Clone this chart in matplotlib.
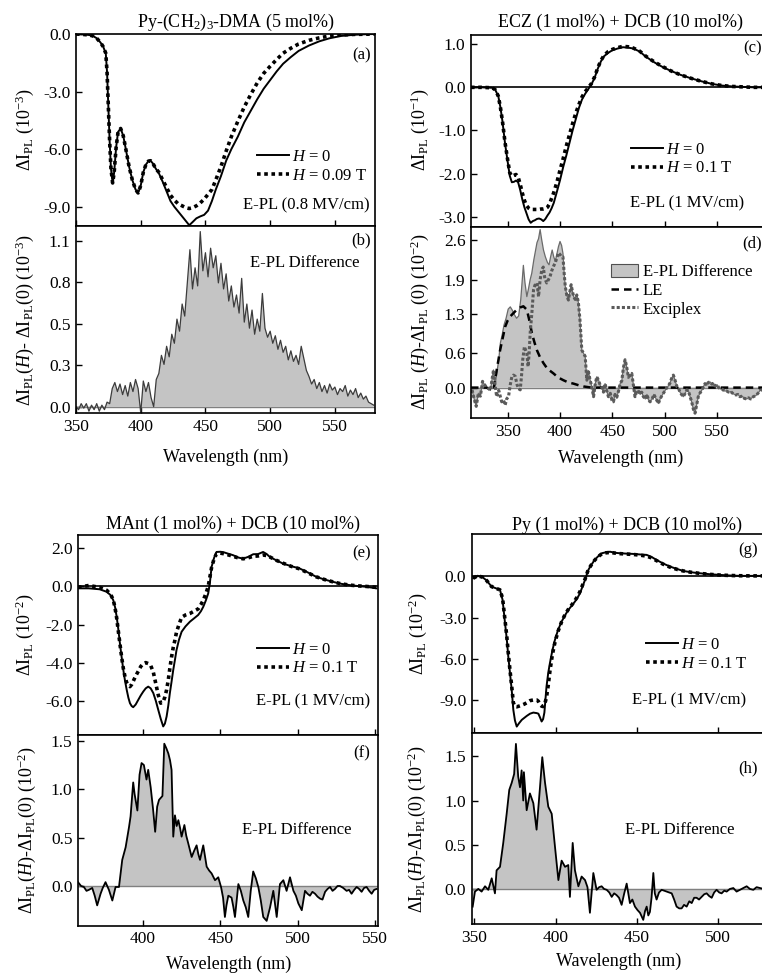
import matplotlib
matplotlib.use("Agg")
import matplotlib.pyplot as plt
from matplotlib.lines import Line2D
from matplotlib.patches import Patch
import numpy as np

plt.rcParams["font.family"] = "Liberation Serif"
plt.rcParams["mathtext.fontset"] = "custom"
plt.rcParams["mathtext.rm"] = "Liberation Serif"
plt.rcParams["mathtext.it"] = "Liberation Serif:italic"
plt.rcParams["mathtext.bf"] = "Liberation Serif:bold"
plt.rcParams["axes.unicode_minus"] = False

# ---------------- data ----------------
# (a) Py-(CH2)3-DMA, E-PL at H = 0 and H = 0.09 T (10^-3)
a_wl = [350, 355, 360, 363, 366, 369, 371, 373, 374, 375,
        376, 377, 378.3, 379.5, 381, 382.5, 384.5, 386.5, 388.5, 391,
        393.5, 396, 398, 400, 402, 404, 406, 407.6, 409.5, 411.5,
        414, 417, 420, 423, 426, 429, 432, 435, 437.5, 440,
        443, 446, 449, 452, 455, 458, 462, 466, 470, 475,
        480, 485, 490, 495, 500, 505, 510, 516, 522, 530,
        538, 546, 555, 565, 575, 581]
a_h0 = [0.0, -0.02, -0.05, -0.1, -0.22, -0.45, -0.66, -1.0, -2.0, -3.8,
        -5.6, -7.0, -7.76, -7.2, -5.9, -5.1, -4.92, -5.3, -6.0, -6.9,
        -7.6, -8.1, -8.28, -7.9, -7.2, -6.8, -6.62, -6.6, -6.75, -7.0,
        -7.25, -7.7, -8.2, -8.7, -9.0, -9.25, -9.5, -9.75, -9.96, -9.8,
        -9.6, -9.5, -9.42, -9.2, -8.7, -8.1, -7.4, -6.6, -6.0, -5.35,
        -4.6, -4.0, -3.4, -2.85, -2.4, -1.95, -1.55, -1.2, -0.88, -0.6,
        -0.38, -0.22, -0.1, -0.04, -0.01, 0.0]
a_h1 = [0.0, -0.02, -0.05, -0.1, -0.22, -0.45, -0.66, -1.0, -2.0, -3.8,
        -5.6, -7.0, -7.76, -7.2, -5.9, -5.1, -4.92, -5.3, -6.0, -6.9,
        -7.6, -8.1, -8.28, -7.9, -7.2, -6.8, -6.62, -6.6, -6.75, -7.0,
        -7.2, -7.6, -8.0, -8.4, -8.65, -8.85, -8.95, -9.05, -9.09, -9.05,
        -8.95, -8.8, -8.6, -8.35, -8.1, -7.6, -6.9, -6.1, -5.35, -4.55,
        -3.8, -3.15, -2.55, -2.05, -1.68, -1.33, -1.0, -0.74, -0.52, -0.33,
        -0.2, -0.1, -0.05, -0.02, -0.01, 0.0]

# (b) E-PL difference (10^-3)
b_wl = [350, 352, 354, 356, 358, 360, 362, 364, 366, 368,
        370, 372, 374, 376, 378, 380, 382, 384, 386, 388,
        390, 392, 394, 396, 398, 400, 402, 404, 406, 408,
        410, 412, 414, 416, 418, 420, 422, 424, 426, 428,
        430, 432, 434, 436, 438, 440, 442, 444, 446, 448,
        450, 452, 454, 456, 458, 460, 462, 464, 466, 468,
        470, 472, 474, 476, 478, 480, 482, 484, 486, 488,
        490, 492, 494, 496, 498, 500, 502, 504, 506, 508,
        510, 512, 514, 516, 518, 520, 522, 524, 526, 528,
        530, 532, 534, 536, 538, 540, 542, 544, 546, 548,
        550, 552, 554, 556, 558, 560, 562, 564, 566, 568,
        570, 572, 574, 576, 578, 580]
b_diff = [0.00, -0.02, 0.02, -0.01, 0.02, -0.03, 0.01, -0.02, 0.02, -0.03,
          0.01, -0.02, 0.03, 0.02, 0.12, 0.16, 0.10, 0.15, 0.08, 0.14,
          0.07, 0.16, 0.10, 0.18, 0.12, -0.04, 0.17, 0.10, 0.16, 0.06,
          0.00, 0.18, 0.22, 0.34, 0.28, 0.40, 0.33, 0.48, 0.42, 0.58,
          0.50, 0.68, 0.60, 0.82, 1.04, 0.78, 0.92, 0.80, 1.16, 0.90,
          1.02, 0.86, 1.05, 0.92, 1.00, 0.82, 0.95, 0.78, 0.88, 0.70,
          0.80, 0.66, 0.74, 0.62, 0.85, 0.56, 0.68, 0.52, 0.64, 0.48,
          0.58, 0.50, 0.75, 0.52, 0.46, 0.50, 0.42, 0.47, 0.38, 0.44,
          0.36, 0.40, 0.31, 0.37, 0.30, 0.34, 0.28, 0.40, 0.32, 0.24,
          0.20, 0.15, 0.18, 0.12, 0.16, 0.10, 0.14, 0.09, 0.15, 0.11,
          0.13, 0.08, 0.12, 0.10, 0.14, 0.07, 0.11, 0.08, 0.12, 0.06,
          0.09, 0.05, 0.07, 0.03, 0.02, 0.01]

# (c) ECZ + DCB, E-PL at H = 0 and H = 0.1 T (10^-1)
c_wl = [315, 325, 335, 338, 341, 343, 345, 347.5, 350, 352,
        354, 356, 358, 360, 362, 364, 366, 368, 370, 372,
        374, 376, 378, 380, 382, 384, 386, 388, 390, 392,
        394, 397, 400, 403, 406, 409, 412, 415, 418, 421,
        424, 427, 430, 433, 436, 439, 442, 446, 450, 455,
        460, 465, 470, 476, 482, 490, 498, 506, 515, 525,
        535, 545, 555, 565, 575, 585, 600]
c_h0 = [0.0, 0.0, -0.01, -0.05, -0.2, -0.45, -0.78, -1.3, -1.72, -2.05,
        -2.2, -2.19, -2.16, -2.2, -2.38, -2.6, -2.78, -2.92, -3.06, -3.14,
        -3.1, -3.08, -3.05, -3.04, -3.06, -3.1, -3.05, -2.97, -2.9, -2.8,
        -2.68, -2.42, -2.15, -1.85, -1.58, -1.29, -1.0, -0.74, -0.48, -0.28,
        -0.15, -0.04, 0.07, 0.22, 0.43, 0.6, 0.72, 0.8, 0.86, 0.9,
        0.93, 0.92, 0.9, 0.83, 0.71, 0.58, 0.47, 0.38, 0.29, 0.21,
        0.14, 0.08, 0.04, 0.02, 0.01, 0.0, 0.0]
c_h1 = [0.0, 0.0, -0.01, -0.05, -0.2, -0.45, -0.78, -1.28, -1.68, -1.98,
        -2.06, -2.04, -2.02, -2.08, -2.25, -2.45, -2.62, -2.74, -2.8, -2.83,
        -2.83, -2.83, -2.83, -2.83, -2.82, -2.82, -2.81, -2.78, -2.7, -2.57,
        -2.44, -2.2, -1.92, -1.65, -1.36, -1.1, -0.84, -0.6, -0.4, -0.22,
        -0.1, -0.01, 0.09, 0.24, 0.45, 0.62, 0.74, 0.83, 0.88, 0.92,
        0.95, 0.94, 0.91, 0.84, 0.72, 0.59, 0.48, 0.38, 0.29, 0.21,
        0.14, 0.08, 0.04, 0.02, 0.01, 0.0, 0.0]

# (d) E-PL difference (10^-2), with LE and exciplex components
d_wl = [316, 318, 320, 322, 324, 326, 328, 330, 332, 333.5,
        336.5, 338, 340, 341.5, 343, 345, 346.5, 348.5, 350.5, 352.5,
        354.5, 356.5, 358.5, 360.5, 362.5, 364, 365, 366.5, 368.3, 370,
        371.5, 373, 375, 377, 378, 379.5, 381, 382.5, 384.2, 386,
        388, 389.5, 391, 392.5, 394, 395.5, 397, 398.5, 400, 401.5,
        402.8, 404, 405, 406.5, 408, 409.5, 410.6, 412, 413, 414.5,
        416, 417.5, 419, 420.8, 422.5, 424, 425.6, 427, 428.5, 430.3,
        432, 433.5, 435.1, 437, 438.5, 440, 441.5, 443, 444.5, 446.2,
        448, 449.5, 451, 452.5, 454.2, 456, 457.4, 459, 460.5, 462.1,
        463.5, 465.3, 467, 468.5, 470, 471.6, 473, 474.8, 476.5, 478,
        479.6, 481.5, 483, 484.5, 486, 488, 489.5, 490.7, 492.3, 493.9,
        495.5, 497, 498.7, 500.5, 502, 503.4, 505, 506.5, 508.2, 510,
        511.5, 512.9, 514.5, 516, 517.7, 519.5, 521, 522.5, 524, 525.7,
        527.3, 528.9, 530.5, 532, 533.5, 535.2, 537, 538.4, 540, 541.5,
        543.2, 545, 546.5, 547.9, 550, 551.5, 552.7, 555, 557, 559,
        561, 563, 565.4, 568, 570, 571.8, 574, 576, 578.2, 580,
        582, 584.5, 587, 589, 590.9, 593, 596, 600]
d_diff = [-0.04, -0.2, -0.33, -0.1, -0.15, 0.11, 0.05, 0.0, -0.02, -0.05,
          0.31, 0.05, 0.3, 0.49, 0.78, 0.95, 1.1, 1.22, 1.38, 1.42,
          1.36, 1.28, 1.22, 1.26, 1.55, 1.9, 2.15, 1.85, 1.6, 1.75,
          1.9, 2.01, 2.25, 2.45, 2.55, 2.62, 2.78, 2.6, 2.42, 2.3,
          2.2, 2.16, 2.3, 2.42, 2.3, 2.22, 2.35, 2.48, 2.57, 2.5,
          2.36, 2.0, 1.78, 1.62, 1.54, 1.7, 1.81, 1.68, 1.6, 1.55,
          1.63, 1.5, 1.2, 0.66, 0.6, 0.55, 0.13, 0.3, 0.15, 0.02,
          -0.16, 0.05, 0.19, 0.12, 0.03, 0.0, -0.08, 0.07, -0.05, -0.16,
          -0.1, -0.22, -0.25, -0.12, -0.17, -0.05, 0.07, 0.12, 0.35, 0.49,
          0.38, 0.18, 0.22, 0.25, 0.05, -0.16, -0.08, -0.05, -0.12, -0.08,
          -0.16, -0.2, -0.12, -0.22, -0.25, -0.2, -0.12, -0.16, -0.22, -0.28,
          -0.2, -0.15, -0.1, -0.05, 0.0, 0.03, 0.08, 0.16, 0.22, 0.12,
          0.02, 0.0, -0.08, -0.12, -0.16, -0.1, -0.04, -0.05, -0.15, -0.25,
          -0.38, -0.45, -0.3, -0.16, -0.1, -0.05, 0.02, 0.07, 0.04, 0.09,
          0.1, 0.06, 0.08, 0.03, 0.05, 0.0, -0.02, -0.03, -0.06, -0.06,
          -0.08, -0.07, -0.11, -0.13, -0.12, -0.16, -0.15, -0.19, -0.2, -0.18,
          -0.2, -0.16, -0.14, -0.1, -0.05, -0.04, -0.02, 0.0]
# exciplex part that departs from the difference curve (339-403 nm)
ex_mid_wl = [339.5, 341.5, 344.3, 346, 347.6, 349, 350.8, 352.5, 354, 355.5,
             357.2, 359, 360.5, 362, 363.2, 364.4, 366, 367.2, 368.3, 369.5,
             370.5, 371.5, 373.1, 374.7, 376, 378, 379.5, 381, 382.6, 384,
             385.5, 387.3, 389, 390.4, 392, 393.7, 395.5, 397, 398.4, 400,
             401.5, 402.8]
ex_mid = [-0.16, -0.05, -0.25, -0.22, -0.31, -0.2, -0.16, 0.05, 0.19, 0.22,
          0.2, 0.05, -0.02, -0.04, 0.2, 0.49, 0.72, 0.66, 0.6, 0.37,
          0.6, 0.96, 1.31, 1.72, 1.8, 1.84, 1.6, 1.9, 2.07, 2.12,
          1.92, 1.84, 1.9, 1.95, 2.05, 2.13, 2.2, 2.28, 2.37, 2.34,
          2.3, 2.3]
le_wl = [315, 330, 336.5, 339, 342.8, 345, 347.6, 350, 352.4, 355,
         358.7, 362, 365, 368.3, 370.5, 373.1, 375.5, 377.9, 381, 384.2,
         388, 393.7, 398, 403.2, 408, 412.8, 418, 422.4, 430, 600]
le = [0.0, 0.0, -0.05, 0.25, 0.66, 0.85, 1.07, 1.18, 1.25, 1.3,
      1.37, 1.41, 1.43, 1.37, 1.2, 0.96, 0.8, 0.66, 0.53, 0.43,
      0.33, 0.25, 0.18, 0.13, 0.09, 0.07, 0.04, 0.02, 0.0, 0.0]

# (e) MAnt + DCB (10^-2)
e_wl = [358, 365, 372, 376.5, 379, 380.8, 382, 383, 384, 385.1,
        386.2, 387.3, 388.4, 389.5, 390.6, 391.6, 392.7, 393.7, 395.3, 397,
        398.6, 400.2, 401.8, 403.4, 405, 406.7, 408.3, 409.9, 411.5, 413.1,
        414.2, 415.3, 416.4, 417.4, 418.5, 419.6, 420.7, 421.7, 423.3, 425,
        427.5, 430.4, 433, 435.7, 437.5, 439, 440.6, 442.2, 443.3, 444.4,
        446, 447.6, 450, 452, 455, 458.3, 461.5, 464.8, 468, 471.3,
        474.5, 477.7, 480, 482, 486, 490.6, 496, 501.4, 507, 512.2,
        517.5, 522.9, 528, 533.7, 539, 544.5, 551]
e_h0 = [-0.1, -0.1, -0.15, -0.28, -0.45, -0.72, -1.1, -1.59, -2.2, -2.98,
        -3.7, -4.38, -4.95, -5.43, -5.85, -6.13, -6.28, -6.34, -6.2, -5.95,
        -5.72, -5.52, -5.35, -5.26, -5.35, -5.6, -6.0, -6.48, -6.95, -7.35,
        -7.2, -6.83, -6.25, -5.6, -5.0, -4.38, -3.85, -3.34, -2.8, -2.38,
        -2.1, -1.85, -1.68, -1.5, -1.3, -1.07, -0.75, -0.37, 0.2, 1.03,
        1.5, 1.81, 1.82, 1.8, 1.72, 1.64, 1.52, 1.46, 1.55, 1.69,
        1.7, 1.81, 1.7, 1.55, 1.38, 1.2, 1.06, 0.94, 0.72, 0.5,
        0.36, 0.24, 0.14, 0.07, 0.02, -0.02, -0.1]
e_h1 = [-0.05, 0.05, -0.05, -0.2, -0.4, -0.7, -1.15, -1.65, -2.3, -3.0,
        -3.7, -4.3, -4.75, -5.05, -5.2, -5.26, -5.15, -4.98, -4.7, -4.45,
        -4.2, -4.05, -4.0, -4.05, -4.15, -4.5, -5.1, -5.7, -6.13, -6.05,
        -5.8, -5.43, -4.9, -4.3, -3.7, -3.2, -2.81, -2.4, -2.0, -1.62,
        -1.5, -1.42, -1.3, -1.18, -0.95, -0.72, -0.4, 0.0, 0.5, 1.0,
        1.45, 1.72, 1.75, 1.72, 1.66, 1.58, 1.5, 1.45, 1.5, 1.58,
        1.6, 1.65, 1.62, 1.55, 1.38, 1.22, 1.05, 0.92, 0.7, 0.5,
        0.36, 0.24, 0.14, 0.07, 0.03, 0.0, -0.05]

# (f) E-PL difference (10^-2)
f_wl = [358, 360, 361.8, 363.5, 365, 367.2, 368.8, 370.4, 372.6, 374,
        375.8, 378, 380.2, 382.3, 384.5, 386.6, 388.8, 391, 392, 393.1,
        393.7, 394.6, 396.4, 397.8, 399.1, 400.6, 402.3, 403.4, 405, 406.5,
        407.9, 409.2, 410.4, 412.6, 413.8, 415.2, 416.4, 417.5, 418.5, 419.6,
        420.7, 421.8, 422.9, 424, 425, 426.8, 428, 429.3, 431.5, 433,
        434.7, 435.8, 436.9, 438, 439, 441.2, 442.8, 444.4, 446.6, 448.7,
        450.5, 451.8, 453, 454, 455.2, 457.3, 458.5, 459.5, 461.7, 463.3,
        464.9, 466.5, 468.1, 469.7, 471.3, 473, 474.6, 476.2, 477.8, 480,
        482.2, 484.3, 486.5, 488.6, 490.8, 492.9, 495.1, 497.3, 498.9, 500.5,
        502.7, 504.8, 506.4, 508, 509.6, 511.3, 512.9, 514.5, 516.1, 517.8,
        519.4, 521, 522.6, 524.2, 525.8, 527.4, 529.5, 531.7, 533.3, 534.9,
        536.6, 538.2, 539.8, 541.4, 543, 544.6, 546.3, 547.9, 549.5, 551.1]
f_diff = [0.04, 0.0, -0.01, -0.05, -0.04, -0.02, -0.1, -0.2, -0.08, -0.02,
          0.04, -0.04, -0.15, -0.01, -0.01, 0.27, 0.4, 0.61, 0.72, 0.95,
          1.07, 0.95, 0.78, 1.15, 1.27, 1.25, 1.1, 1.2, 1.02, 0.8,
          0.56, 0.82, 0.89, 0.93, 1.47, 1.42, 1.37, 1.3, 1.2, 0.51,
          0.73, 0.62, 0.68, 0.6, 0.51, 0.63, 0.52, 0.44, 0.3, 0.36,
          0.42, 0.33, 0.27, 0.35, 0.42, 0.2, 0.16, 0.13, 0.06, 0.09,
          -0.01, -0.12, -0.32, -0.2, -0.1, -0.12, -0.22, -0.32, 0.02, -0.05,
          -0.15, -0.22, -0.32, -0.05, 0.15, 0.08, -0.01, -0.15, -0.32, -0.36,
          -0.22, -0.05, -0.32, 0.02, 0.06, -0.05, 0.09, -0.05, -0.1, -0.18,
          -0.25, -0.05, -0.08, -0.1, -0.06, -0.08, -0.11, -0.13, -0.14, -0.06,
          -0.03, -0.01, -0.05, -0.03, 0.0, 0.0, -0.02, -0.05, -0.04, -0.08,
          -0.04, -0.01, -0.03, -0.06, -0.02, -0.01, -0.05, -0.08, -0.04, -0.03]

# (g) Py + DCB (10^-2)
g_wl = [349.4, 352, 355, 357.6, 360.6, 363, 365.8, 367.4, 368.9, 370,
        370.9, 372, 373, 374, 375, 376.1, 377.5, 379.2, 380.8, 382.3,
        384.3, 386.3, 388.4, 389.4, 390.5, 391.4, 392.3, 393.1, 394.4, 395.5,
        396.5, 398, 399.6, 401.5, 403.7, 405.7, 407.8, 409.8, 411.9, 413.5,
        415, 416.5, 418.1, 420.1, 422, 424, 426, 428.4, 431, 433.5,
        436.5, 439.6, 443.7, 447.8, 452, 456, 459, 462.1, 466, 470.3,
        474.5, 478.5, 483.5, 488.8, 495, 501, 507, 513.4, 520, 530]
g_h0 = [-0.13, 0.05, -0.05, -0.3, -0.74, -0.85, -0.98, -1.71, -3.41, -4.6,
        -5.84, -7.1, -8.27, -9.72, -10.5, -10.94, -10.7, -10.45, -10.3, -10.16,
        -10.0, -9.92, -9.96, -10.0, -10.3, -10.57, -10.4, -9.92, -8.03, -7.0,
        -6.32, -5.4, -4.62, -3.9, -3.29, -2.85, -2.44, -2.15, -1.83, -1.55,
        -1.22, -0.75, -0.25, 0.47, 0.85, 1.2, 1.45, 1.69, 1.76, 1.8,
        1.72, 1.69, 1.66, 1.64, 1.6, 1.57, 1.42, 1.2, 0.95, 0.72,
        0.55, 0.4, 0.3, 0.23, 0.16, 0.11, 0.07, 0.04, 0.04, 0.04]
g_h1 = [-0.13, 0.05, -0.05, -0.3, -0.74, -0.85, -0.98, -1.6, -3.2, -4.4,
        -5.6, -6.9, -8.0, -9.2, -9.48, -9.5, -9.45, -9.38, -9.3, -9.2,
        -9.05, -9.0, -9.0, -9.1, -9.36, -9.45, -9.48, -9.4, -8.8, -7.9,
        -6.9, -5.7, -4.8, -4.0, -3.3, -2.8, -2.4, -2.1, -1.75, -1.45,
        -1.1, -0.65, -0.2, 0.5, 0.85, 1.18, 1.42, 1.65, 1.72, 1.75,
        1.7, 1.66, 1.63, 1.6, 1.55, 1.48, 1.35, 1.15, 0.9, 0.68,
        0.52, 0.4, 0.3, 0.22, 0.15, 0.1, 0.07, 0.05, 0.04, 0.04]

# (h) E-PL difference (10^-2)
h_wl = [349, 350.4, 352.5, 354.5, 356.6, 358.6, 360.7, 362.7, 363.7, 365.8,
        367.8, 369.9, 371.5, 373, 374.5, 375.6, 377, 378.1, 379.1, 380.1,
        380.5, 382.2, 384.2, 386.3, 388.3, 390.4, 391.8, 393.5, 395.5, 397.6,
        399.6, 401.7, 403.7, 405.8, 407.8, 408.8, 410.5, 411.9, 414, 416,
        418.1, 419.6, 421.1, 423.2, 425.2, 426.8, 428.3, 429.8, 431.4, 433,
        434.5, 436, 437.5, 439, 440.6, 442.2, 443.7, 445.7, 447.2, 448.8,
        450.4, 451.9, 453.9, 455, 456, 457, 458, 459, 460.1, 461,
        462.1, 463.6, 465.2, 466.8, 468.3, 469.8, 471.4, 472.9, 474.4, 476,
        477.5, 479, 480.6, 482.2, 483.7, 485.2, 486.7, 488.2, 489.8, 491.4,
        492.9, 494.4, 496, 497.5, 499, 500.6, 502.1, 503.7, 505.2, 507.2,
        509.3, 511.3, 513.4, 515.4, 517.5, 519.5, 521.6, 523.6, 525.7, 528]
h_diff = [-0.2, -0.03, 0.0, -0.03, 0.03, -0.01, 0.12, -0.05, 0.21, 0.25,
          0.52, 0.85, 1.12, 1.2, 1.3, 1.64, 1.27, 1.15, 1.34, 1.0,
          1.32, 0.89, 1.08, 0.97, 0.67, 1.15, 1.49, 1.2, 0.93, 0.85,
          0.48, 0.1, 0.32, 0.25, 0.27, -0.09, 0.52, 0.21, 0.03, 0.14,
          0.1, 0.02, -0.27, 0.18, -0.01, 0.02, 0.03, 0.0, -0.01, -0.04,
          -0.09, -0.05, -0.07, -0.1, -0.18, -0.05, 0.06, -0.16, -0.12, -0.2,
          -0.24, -0.27, -0.35, -0.25, -0.2, -0.3, -0.26, -0.1, 0.18, -0.05,
          -0.12, -0.04, -0.01, -0.02, -0.03, -0.04, -0.05, -0.12, -0.2, -0.22,
          -0.22, -0.18, -0.2, -0.14, -0.16, -0.1, -0.1, -0.12, -0.09, -0.06,
          -0.05, -0.08, -0.1, -0.04, -0.01, -0.04, -0.05, -0.02, -0.03, 0.0,
          0.01, -0.03, -0.01, 0.01, 0.03, 0.0, -0.01, 0.02, 0.01, 0.0]

# ---------------- figure ----------------
W, H = 762, 973
fig = plt.figure(figsize=(W / 100, H / 100), dpi=100)

SOLID = dict(color="k", lw=1.4)
DOTTED = dict(color="k", lw=2.6, ls=(0, (1, 1)))
FILL = "#c4c4c4"


def add_panel(l, t, r, b):
    # panel box given in pixels of the final image
    return fig.add_axes([l / W, 1 - b / H, (r - l) / W, (b - t) / H])


def ftext(x, y, s, **kw):
    kw.setdefault("fontsize", 12)
    kw.setdefault("va", "center")
    return fig.text(x / W, 1 - y / H, s, **kw)


def style(ax, xlim, ylim, xticks, yticks, ylabels=None, show_x=False):
    ax.set_xlim(*xlim)
    ax.set_ylim(*ylim)
    ax.set_xticks(xticks)
    ax.set_yticks(yticks)
    ax.set_yticklabels(ylabels if ylabels else ["%.1f" % v for v in yticks])
    ax.tick_params(direction="in", length=4, width=1, labelsize=12.5,
                   labelbottom=show_x, pad=4)
    for s in ax.spines.values():
        s.set_linewidth(1.2)


def field_legend(ax, label, x, y):
    handles = [Line2D([], [], **SOLID), Line2D([], [], **DOTTED)]
    ax.legend(handles, [r"$H$ = 0", label], loc="upper left",
              bbox_to_anchor=(x / W, 1 - y / H), bbox_transform=fig.transFigure,
              frameon=False, fontsize=12, handlelength=1.9, handletextpad=0.2,
              labelspacing=0.15, borderpad=0, borderaxespad=0)


def diff_panel(ax, wl, vals, edge, lw):
    ax.fill_between(wl, vals, 0, facecolor=FILL, edgecolor="none")
    ax.axhline(0, color="#808080", lw=1.0)
    ax.plot(wl, vals, color=edge, lw=lw)


ylab_top = r"ΔI$_{\mathrm{PL}}$ (10$^{%s}$)"

# ---- (a) / (b)
ax_a = add_panel(76, 34, 375, 226)
ax_a.plot(a_wl, a_h0, **SOLID)
ax_a.plot(a_wl, a_h1, **DOTTED)
style(ax_a, (350, 581), (-10.0, 0.0), [350, 400, 450, 500, 550], [0, -3, -6, -9])
field_legend(ax_a, r"$H$ = 0.09 T", 257, 149)
ftext(370, 205, "E-PL (0.8 MV/cm)", ha="right")
ftext(371, 55, "(a)", ha="right")
ftext(236, 22, r"Py-(CH$_2$)$_3$-DMA (5 mol%)", ha="center", fontsize=13)
ftext(25, 130, ylab_top % "-3", rotation=90, ha="center", fontsize=13)

ax_b = add_panel(76, 226, 375, 413)
diff_panel(ax_b, b_wl, b_diff, "#3c3c3c", 0.9)
style(ax_b, (350, 581), (-0.042, 1.197), [350, 400, 450, 500, 550],
      [0, 0.275, 0.55, 0.825, 1.1], ["0.0", "0.3", "0.5", "0.8", "1.1"], show_x=True)
ftext(250, 263, "E-PL Difference")
ftext(371, 240, "(b)", ha="right")
ftext(25, 320, r"ΔI$_{\mathrm{PL}}$($H$)- ΔI$_{\mathrm{PL}}$(0) (10$^{-3}$)",
      rotation=90, ha="center", fontsize=13)
ftext(226, 457, "Wavelength (nm)", ha="center", fontsize=13)

# ---- (c) / (d)
ax_c = add_panel(471, 34.7, 769.5, 226.7)
ax_c.axhline(0, color="k", lw=1.2)
ax_c.plot(c_wl, c_h0, **SOLID)
ax_c.plot(c_wl, c_h1, **DOTTED)
style(ax_c, (315, 600), (-3.23, 1.22), [350, 400, 450, 500, 550], [1, 0, -1, -2, -3])
field_legend(ax_c, r"$H$ = 0.1 T", 631, 142)
ftext(630, 203, "E-PL (1 MV/cm)", ha="left")
ftext(762, 48, "(c)", ha="right")
ftext(620, 22, "ECZ (1 mol%) + DCB (10 mol%)", ha="center", fontsize=13)
ftext(420, 130, ylab_top % "-1", rotation=90, ha="center", fontsize=13)

ax_d = add_panel(471, 226.7, 769.5, 418.3)
d_wl_arr = np.array(d_wl)
d_diff_arr = np.array(d_diff)
ex_wl = np.concatenate([d_wl_arr[d_wl_arr < 339], ex_mid_wl, d_wl_arr[d_wl_arr > 403]])
ex = np.concatenate([d_diff_arr[d_wl_arr < 339], ex_mid, d_diff_arr[d_wl_arr > 403]])
diff_panel(ax_d, d_wl, d_diff, "#6a6a6a", 0.9)
ax_d.plot(le_wl, le, color="k", lw=1.8, ls=(0, (3, 2)))
ax_d.plot(ex_wl, ex, color="#5a5a5a", lw=2.2, ls=(0, (1, 0.7)))
style(ax_d, (315, 600), (-0.54, 2.83), [350, 400, 450, 500, 550],
      [0, 0.6, 1.3, 1.9, 2.6], show_x=True)
ax_d.legend([Patch(facecolor=FILL, edgecolor="#505050", lw=0.8),
             Line2D([], [], color="k", lw=1.8, ls=(0, (3, 2))),
             Line2D([], [], color="#5a5a5a", lw=2.2, ls=(0, (1, 0.7)))],
            ["E-PL Difference", "LE", "Exciplex"], loc="upper left",
            bbox_to_anchor=(611 / W, 1 - 264 / H), bbox_transform=fig.transFigure,
            frameon=False, fontsize=12, handlelength=1.6, handleheight=0.8,
            handletextpad=0.3, labelspacing=0.15, borderpad=0, borderaxespad=0)
ftext(762, 243, "(d)", ha="right")
ftext(420, 322, r"ΔI$_{\mathrm{PL}}$ ($H$)-ΔI$_{\mathrm{PL}}$ (0) (10$^{-2}$)",
      rotation=90, ha="center", fontsize=13)
ftext(621, 458, "Wavelength (nm)", ha="center", fontsize=13)

# ---- (e) / (f)
ax_e = add_panel(78, 535, 378, 735)
ax_e.axhline(0, color="k", lw=1.2)
ax_e.plot(e_wl, e_h0, **SOLID)
ax_e.plot(e_wl, e_h1, **DOTTED)
style(ax_e, (358, 552), (-7.8, 2.7), [400, 450, 500, 550], [2, 0, -2, -4, -6])
field_legend(ax_e, r"$H$ = 0.1 T", 257, 642)
ftext(370, 701, "E-PL (1 MV/cm)", ha="right")
ftext(371, 553, "(e)", ha="right")
ftext(233, 524, "MAnt (1 mol%) + DCB (10 mol%)", ha="center", fontsize=13)
ftext(25, 635, ylab_top % "-2", rotation=90, ha="center", fontsize=13)

ax_f = add_panel(78, 735, 378, 925.7)
diff_panel(ax_f, f_wl, f_diff, "k", 1.3)
style(ax_f, (358, 552), (-0.41, 1.56), [400, 450, 500, 550], [0, 0.5, 1.0, 1.5], show_x=True)
ftext(242, 830, "E-PL Difference")
ftext(370, 753, "(f)", ha="right")
ftext(27, 830, r"ΔI$_{\mathrm{PL}}$($H$)-ΔI$_{\mathrm{PL}}$(0) (10$^{-2}$)",
      rotation=90, ha="center", fontsize=13)
ftext(229, 964, "Wavelength (nm)", ha="center", fontsize=13)

# ---- (g) / (h)
ax_g = add_panel(471.7, 534.3, 767, 733.3)
ax_g.axhline(0, color="k", lw=1.2)
ax_g.plot(g_wl, g_h0, **SOLID)
ax_g.plot(g_wl, g_h1, **DOTTED)
style(ax_g, (348.4, 530), (-11.43, 3.07), [350, 400, 450, 500], [0, -3, -6, -9])
field_legend(ax_g, r"$H$ = 0.1 T", 646, 637)
ftext(632, 700, "E-PL (1 MV/cm)", ha="left")
ftext(758, 550, "(g)", ha="right")
ftext(627, 525, "Py (1 mol%) + DCB (10 mol%)", ha="center", fontsize=13)
ftext(418, 634, ylab_top % "-2", rotation=90, ha="center", fontsize=13)

ax_h = add_panel(471.7, 733.3, 767, 924.3)
diff_panel(ax_h, h_wl, h_diff, "k", 1.3)
style(ax_h, (348.4, 530), (-0.40, 1.76), [350, 400, 450, 500], [0, 0.5, 1.0, 1.5], show_x=True)
ftext(625, 830, "E-PL Difference")
ftext(758, 768, "(h)", ha="right")
ftext(417, 829, r"ΔI$_{\mathrm{PL}}$($H$)-ΔI$_{\mathrm{PL}}$(0) (10$^{-2}$)",
      rotation=90, ha="center", fontsize=13)
ftext(619, 961, "Wavelength (nm)", ha="center", fontsize=13)

fig.savefig("out.png", dpi=100)
